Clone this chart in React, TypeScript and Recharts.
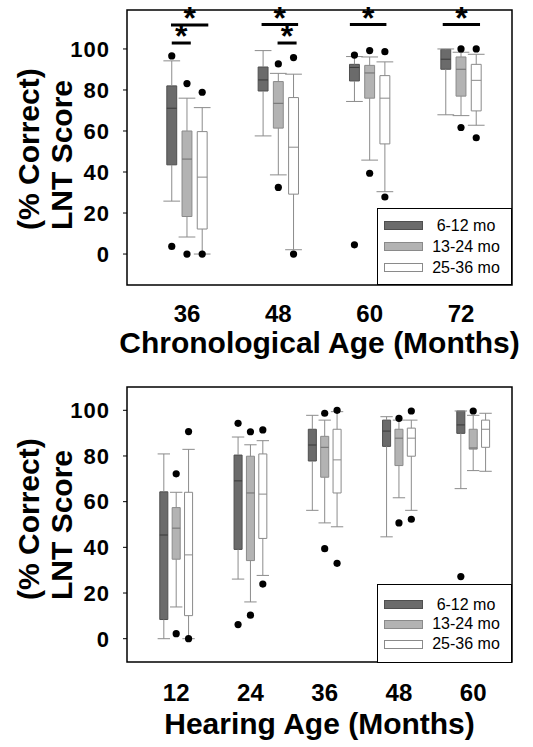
import { ComposedChart, XAxis, YAxis, Scatter, ReferenceArea, ReferenceLine, Legend } from "recharts";

const FONT = '"Liberation Sans", Arial, Helvetica, sans-serif';

const groupLabels = ["6-12 mo", "13-24 mo", "25-36 mo"];
const groupOffsets = [-2, 0, 2];
const scoreTicks = [0, 20, 40, 60, 80, 100];

// box stats per age: [min, q1, median, q3, max]
const chronoAges = [36, 48, 60, 72];
const chrono6to12 = [[25.8, 43.5, 71.1, 82, 94.2], [57.6, 79.5, 84.9, 91.2, 99.2], [74.4, 84.4, 91, 92.5, 96.3], [67.9, 90.1, 95, 99.8, 100]];
const chrono13to24 = [[8.3, 18.3, 46.3, 60, 76], [38.6, 61.4, 73.5, 84.1, 88.1], [45.8, 76, 88.3, 92, 96.1], [67.5, 77, 90.1, 96.1, 98.4]];
const chrono25to36 = [[0, 12.2, 37.5, 59.7, 71.4], [2.1, 29.2, 52.1, 76.3, 87.7], [30.4, 53.7, 76, 87, 93.7], [62.8, 69.8, 84.7, 92.5, 97.4]];
// outliers: [age, score]
const chronoOut6to12 = [[36, 96.6], [36, 3.7], [60, 97], [60, 4.5]];
const chronoOut13to24 = [[36, 83.1], [36, 0], [48, 92.7], [48, 32.5], [60, 99.2], [60, 39.4], [72, 100], [72, 61.7]];
const chronoOut25to36 = [[36, 78.9], [36, 0], [48, 95.8], [48, 0], [60, 98.7], [60, 27.8], [72, 100], [72, 56.7]];
// significance bars: [from age, to age, score]
const chronoSig = [[33.9, 38.8, 111.7], [34.0, 36.5, 102.9], [45.8, 50.6, 111.9], [47.9, 50.4, 102.9], [57.4, 62.2, 111.9], [69.6, 74.5, 111.9]];

const hearingAges = [12, 24, 36, 48, 60];
const hearing6to12 = [[0, 8.4, 45.4, 64.3, 80.9], [26.1, 39.1, 69.1, 80.4, 88.3], [56.2, 77.8, 84.8, 91.7, 97.8], [44.6, 84.2, 90.9, 95.7, 97.2], [65.7, 89.9, 93.6, 99.7, 99.7]];
const hearing13to24 = [[13.9, 34.8, 48.4, 57.4, 64.1], [16.1, 34.2, 63.8, 79.9, 84.9], [50.7, 70.7, 83.8, 88.6, 95.7], [61.7, 75.8, 87.8, 91.7, 95.7], [73.6, 83, 83.5, 91.7, 97.8]];
const hearing25to36 = [[0, 10.1, 36.7, 64.1, 82.9], [27.7, 43.9, 63.3, 80.9, 86.7], [49, 63.8, 78.3, 91.7, 99.4], [56.2, 79.9, 87.8, 92.2, 95.7], [73.3, 83.8, 91.7, 95.7, 98.7]];
const hearingOut6to12 = [[24, 94.3], [24, 6.2], [60, 27.2]];
const hearingOut13to24 = [[12, 72.2], [12, 2.2], [24, 90.6], [24, 10.3], [36, 98.7], [36, 39.4], [48, 96.5], [48, 50.7], [60, 99.7]];
const hearingOut25to36 = [[12, 90.7], [12, 0], [24, 91.4], [24, 23.9], [36, 100], [36, 33], [48, 99.7], [48, 52.3]];

const boxStyles = [
  { fill: "#6b6b6b", stroke: "#4f4f4f", median: "#3a3a3a" },
  { fill: "#b3b3b3", stroke: "#8a8a8a", median: "#6f6f6f" },
  { fill: "#ffffff", stroke: "#8a8a8a", median: "#8a8a8a" },
];
const whiskerColor = "#8c8c8c";

function boxMarks(id: string, ages: number[], stats: number[][], g: number, halfBox: number, halfCap: number) {
  const s = boxStyles[g];
  return ages.flatMap((age, i) => {
    const [lo, q1, med, q3, hi] = stats[i];
    const x = age + groupOffsets[g];
    const k = `${id}-${g}-${i}`;
    const line = { stroke: whiskerColor, strokeWidth: 1, ifOverflow: "visible" as const };
    return [
      <ReferenceLine key={k + "wu"} segment={[{ x, y: q3 }, { x, y: hi }]} {...line} />,
      <ReferenceLine key={k + "wl"} segment={[{ x, y: lo }, { x, y: q1 }]} {...line} />,
      <ReferenceLine key={k + "cu"} segment={[{ x: x - halfCap, y: hi }, { x: x + halfCap, y: hi }]} {...line} />,
      <ReferenceLine key={k + "cl"} segment={[{ x: x - halfCap, y: lo }, { x: x + halfCap, y: lo }]} {...line} />,
      <ReferenceArea key={k + "b"} x1={x - halfBox} x2={x + halfBox} y1={q1} y2={q3} fill={s.fill} fillOpacity={1} stroke={s.stroke} strokeWidth={1} ifOverflow="visible" />,
      <ReferenceLine key={k + "m"} segment={[{ x: x - halfBox, y: med }, { x: x + halfBox, y: med }]} stroke={s.median} strokeWidth={1} ifOverflow="visible" />,
    ];
  });
}

function LegendBox({ first, step }: { first: number; step: number }) {
  return (
    <div style={{ position: "relative", width: "100%", height: "100%", boxSizing: "border-box", border: "1.5px solid #000", background: "#fff", fontFamily: FONT, fontSize: 16, color: "#000" }}>
      {groupLabels.map((label, g) => (
        <div key={label} style={{ position: "absolute", left: 0, right: 0, top: first + g * step - 10, height: 20, display: "flex", alignItems: "center" }}>
          <span style={{ marginLeft: 6, width: 37, height: 7, background: boxStyles[g].fill, border: `1px solid ${boxStyles[g].stroke}` }} />
          <span style={{ flex: 1, textAlign: "center", paddingRight: 2 }}>{label}</span>
        </div>
      ))}
    </div>
  );
}

const dot = (p: any) => <circle cx={p.cx} cy={p.cy} r={3.6} fill="#000" />;
const star = (p: any) => (
  <text x={p.cx} y={p.cy + 4} textAnchor="middle" fontSize={32} fontWeight={700} fontFamily={FONT} fill="#000">*</text>
);

type PanelProps = {
  id: string;
  height: number;
  top: number;
  ages: number[];
  xDomain: [number, number];
  yDomain: [number, number];
  stats: number[][][];
  outliers: number[][][];
  sig: number[][];
  title: string;
  tickGap: number;
  titleDy: number;
  yTitleBottom: number;
  halfCap: number;
  legend: { top: number; height: number; first: number; step: number };
};

function Panel(p: PanelProps) {
  const [x0, x1] = p.xDomain;
  const [y0, y1] = p.yDomain;
  const YTitle = (lp: any) => {
    const vb = lp.viewBox;
    const b = vb.y + p.yTitleBottom;
    return (
      <g fontFamily={FONT} fontSize={30} fontWeight={700} fill="#000">
        <text transform={`translate(${vb.x + 39},${b}) rotate(-90)`}>(% Correct)</text>
        <text transform={`translate(${vb.x + 72},${b}) rotate(-90)`}>LNT Score</text>
      </g>
    );
  };
  const XTitle = (lp: any) => {
    const vb = lp.viewBox;
    return (
      <text x={vb.x + vb.width / 2} y={vb.y + p.titleDy} textAnchor="middle" fontFamily={FONT} fontSize={30} fontWeight={700} fill="#000">
        {p.title}
      </text>
    );
  };
  return (
    <ComposedChart width={533} height={p.height} margin={{ top: p.top, right: 21, bottom: 0, left: 0 }} style={{ fontFamily: FONT }}>
      <XAxis
        type="number"
        dataKey="x"
        domain={p.xDomain}
        ticks={p.ages}
        axisLine={false}
        tickLine={false}
        tickSize={0}
        tickMargin={p.tickGap}
        height={p.height - p.top - 275}
        tick={{ fill: "#000", fontSize: 24, fontWeight: 700 }}
        label={{ content: XTitle }}
      />
      <YAxis
        type="number"
        dataKey="y"
        domain={p.yDomain}
        ticks={scoreTicks}
        width={127}
        axisLine={false}
        tickSize={4}
        tickMargin={13}
        tickLine={{ stroke: "#000" }}
        tick={{ fill: "#000", fontSize: 22, fontWeight: 700, letterSpacing: 1 }}
        label={{ content: YTitle }}
      />
      <ReferenceArea x1={x0} x2={x1} y1={y0} y2={y1} fill="none" stroke="#000" strokeWidth={1.5} ifOverflow="visible" />
      {p.stats.map((s, g) => boxMarks(p.id, p.ages, s, g, 0.65, p.halfCap))}
      {p.sig.map(([a, b, y], i) => (
        <ReferenceLine key={`sig${i}`} segment={[{ x: a, y }, { x: b, y }]} stroke="#000" strokeWidth={3} ifOverflow="visible" />
      ))}
      {p.outliers.map((o, g) => (
        <Scatter
          key={`out${g}`}
          name={groupLabels[g]}
          data={o.map(([age, v]) => ({ x: age + groupOffsets[g], y: v }))}
          shape={dot}
          isAnimationActive={false}
        />
      ))}
      {p.sig.length > 0 && (
        <Scatter
          name="sig"
          legendType="none"
          data={p.sig.map(([a, b, y]) => ({ x: (a + b) / 2, y }))}
          shape={star}
          isAnimationActive={false}
        />
      )}
      <Legend
        layout="vertical"
        align="center"
        verticalAlign="middle"
        content={() => <LegendBox first={p.legend.first} step={p.legend.step} />}
        wrapperStyle={{ position: "absolute", left: 377, top: p.legend.top, width: 135, height: p.legend.height, margin: 0 }}
      />
    </ComposedChart>
  );
}

export default function App() {
  return (
    <div style={{ position: "absolute", left: 0, top: 0, width: 533, height: 747, background: "#fff" }}>
      <Panel
        id="chrono"
        height={380}
        top={10}
        ages={chronoAges}
        xDomain={[28.12, 78.7]}
        yDomain={[-15.1, 119]}
        stats={[chrono6to12, chrono13to24, chrono25to36]}
        outliers={[chronoOut6to12, chronoOut13to24, chronoOut25to36]}
        sig={chronoSig}
        title="Chronological Age (Months)"
        tickGap={20}
        titleDy={68}
        yTitleBottom={220}
        halfCap={1.1}
        legend={{ top: 208, height: 77, first: 16.5, step: 21 }}
      />
      <Panel
        id="hearing"
        height={367}
        top={7}
        ages={hearingAges}
        xDomain={[4.05, 66.27]}
        yDomain={[-10.2, 110.2]}
        stats={[hearing6to12, hearing13to24, hearing25to36]}
        outliers={[hearingOut6to12, hearingOut13to24, hearingOut25to36]}
        sig={[]}
        title="Hearing Age (Months)"
        tickGap={22}
        titleDy={72}
        yTitleBottom={213}
        halfCap={1.0}
        legend={{ top: 204, height: 79, first: 19.5, step: 19.8 }}
      />
    </div>
  );
}
